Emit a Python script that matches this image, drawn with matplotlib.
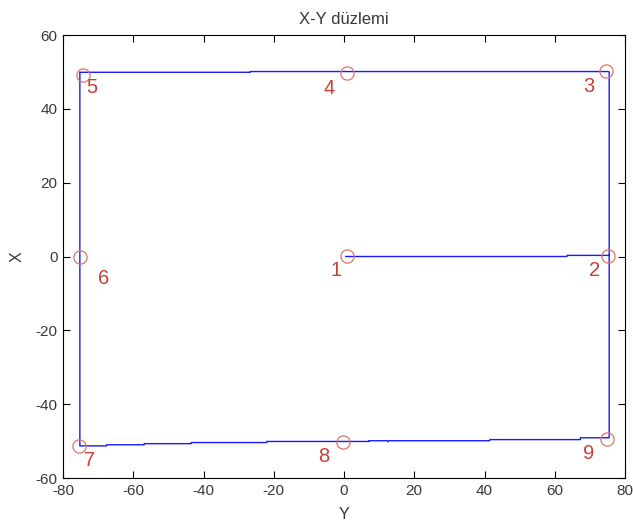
import matplotlib
matplotlib.use("Agg")
import matplotlib.pyplot as plt

plt.rcParams['font.family'] = ['Liberation Sans', 'DejaVu Sans']
plt.rcParams['axes.unicode_minus'] = False

# Trajectory (horizontal axis = Y, vertical axis = X)
path_y = [0.5, 63.5, 63.5, 75.5, 75.5, 75.2, -26.7, -26.7, -75.2, -75.2,
          -67.6, -67.6, -56.9, -56.9, -43.5, -43.5, -22.0, -22.0, 7.1, 7.1,
          12.3, 12.5, 12.7, 41.5, 41.5, 67.3, 67.3, 75.5, 75.5]
path_x = [0.0, 0.0, 0.3, 0.3, 50.0, 50.1, 50.1, 49.9, 49.9, -51.3,
          -51.3, -51.0, -51.0, -50.7, -50.7, -50.4, -50.4, -50.1, -50.1, -49.9,
          -49.9, -50.2, -49.9, -49.9, -49.6, -49.6, -49.1, -49.1, 0.3]

# Waypoints
wp_y = [0.85, 75.2, 74.6, 0.85, -74.3, -75.2, -75.4, -0.3, 74.9]
wp_x = [0.1, 0.1, 50.25, 49.7, 49.2, -0.1, -51.3, -50.2, -49.4]
wp_labels = ['1', '2', '3', '4', '5', '6', '7', '8', '9']
label_offsets = [(-11, -14), (-14, -14), (-17, -16), (-18, -15), (9, -13),
                 (24, -22), (10, -15), (-19, -15), (-18, -15)]

text_color = '#383838'

fig = plt.figure(figsize=(6.33, 5.21), dpi=100)
ax = fig.add_axes([63/633, 1-478/521, (625-63)/633, (478-35)/521])

ax.plot(path_y, path_x, color=(0.1, 0.1, 1.0), lw=1.0)
ax.plot(wp_y, wp_x, linestyle='none', marker='o', markersize=9.5,
        markerfacecolor='none', markeredgecolor=(0.88, 0.45, 0.4), markeredgewidth=0.9)
for yy, xx, lab, off in zip(wp_y, wp_x, wp_labels, label_offsets):
    ax.annotate(lab, (yy, xx), xytext=off, textcoords='offset pixels',
                ha='center', va='center', fontsize=14.5, color=(0.78, 0.25, 0.2))

ax.set_xlim(-80, 80)
ax.set_ylim(-60, 60)
ax.set_xticks(range(-80, 81, 20))
ax.set_yticks(range(-60, 61, 20))
ax.tick_params(direction='in', length=5, width=0.8, top=True, right=True,
               labelsize=11, pad=4, labelcolor=text_color)
for s in ax.spines.values():
    s.set_linewidth(0.8)
ax.set_title('X-Y düzlemi', fontsize=12, pad=8, color=text_color)
ax.set_xlabel('Y', fontsize=11.5, labelpad=7, color=text_color)
ax.set_ylabel('X', fontsize=11.5, labelpad=8, color=text_color)

fig.savefig('out.png', dpi=100)
